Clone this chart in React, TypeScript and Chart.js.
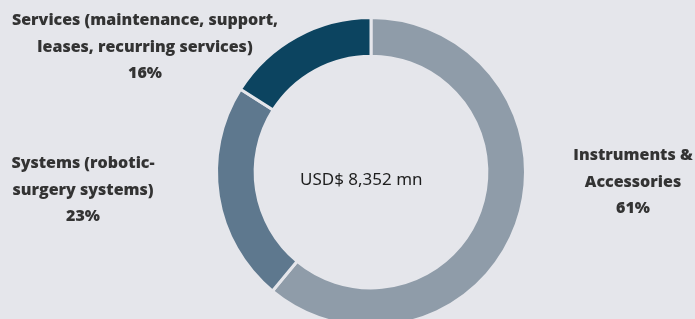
import React, { useEffect, useRef } from "react";
import { Chart, registerables } from "chart.js";

Chart.register(...registerables);

const categories = ["Instruments & Accessories", "Systems (robotic-surgery systems)", "Services (maintenance, support, leases, recurring services)"];
const shares = [61, 23, 16];
const colors = ["#8f9ca9", "#5e788e", "#0c4460"];
const centerLabel = "USD$ 8,352 mn";
const labelLines = [
  ["Instruments &", "Accessories"],
  ["Systems (robotic-", "surgery systems)"],
  ["Services (maintenance, support,", "leases, recurring services)"],
];
const labelPos = [
  { left: 633, top: 141 },
  { left: 83, top: 149 },
  { left: 145, top: 6 },
];

export default function App() {
  const ref = useRef<HTMLCanvasElement>(null);
  useEffect(() => {
    document.body.style.margin = "0";
    const chart = new Chart(ref.current!, {
      type: "doughnut",
      data: {
        labels: categories,
        datasets: [
          {
            data: shares,
            backgroundColor: colors,
            borderColor: "#e5e6eb",
            borderWidth: 3,
          },
        ],
      },
      options: {
        responsive: false,
        animation: false,
        cutout: "75%",
        layout: { padding: { top: 16, bottom: 16, left: 47, right: 0 } },
        plugins: { legend: { display: false }, tooltip: { enabled: false } },
      },
    });
    return () => chart.destroy();
  }, []);
  const font = "'Open Sans', 'Noto Sans', sans-serif";
  return (
    <div style={{ position: "relative", width: 695, height: 319, overflow: "hidden", background: "#e5e6eb" }}>
      <canvas ref={ref} width={695} height={344} style={{ position: "absolute", left: 0, top: 0 }} />
      <div style={{ position: "absolute", left: 300, top: 168, fontFamily: "'Noto Sans', sans-serif", fontSize: 17, color: "#1e1e1e", whiteSpace: "nowrap", lineHeight: "22px" }}>
        {centerLabel}
      </div>
      {labelLines.map((lines, i) => (
        <div
          key={i}
          style={{
            position: "absolute",
            left: labelPos[i].left,
            top: labelPos[i].top,
            transform: "translateX(-50%)",
            textAlign: "center",
            fontFamily: font,
            fontWeight: 800,
            fontSize: 16,
            lineHeight: "26.5px",
            color: "#333",
            whiteSpace: "nowrap",
          }}
        >
          {lines.map((l, j) => (
            <div key={j}>{l}</div>
          ))}
          <div>{shares[i]}%</div>
        </div>
      ))}
    </div>
  );
}
